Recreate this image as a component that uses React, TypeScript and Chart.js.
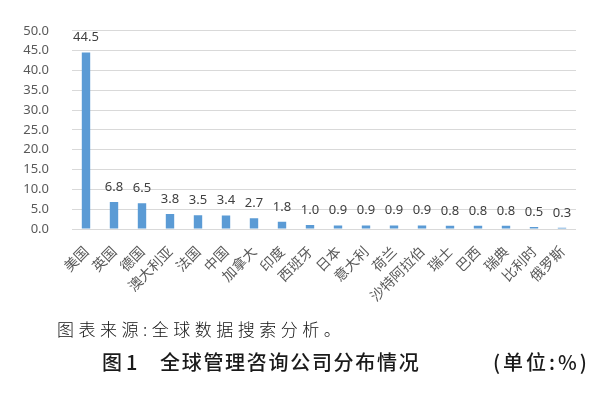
import React, { useEffect, useRef } from "react";
import { Chart, registerables } from "chart.js";

Chart.register(...registerables);

const categories = [
  "美国", "英国", "德国", "澳大利亚", "法国", "中国", "加拿大", "印度", "西班牙",
  "日本", "意大利", "荷兰", "沙特阿拉伯", "瑞士", "巴西", "瑞典", "比利时", "俄罗斯",
];
const shares = [44.5, 6.8, 6.5, 3.8, 3.5, 3.4, 2.7, 1.8, 1.0, 0.9, 0.9, 0.9, 0.9, 0.8, 0.8, 0.8, 0.5, 0.3];
const yMin = 0;
const yMax = 50;
const yStep = 5;

const captionSource = "图表来源:全球数据搜索分析。";
const figureNo = "图1";
const figureTitle = "全球管理咨询公司分布情况";
const unitText = "(单位:%)";

const NUM_FONT = '"Noto Sans", "Liberation Sans", sans-serif';
const CJK_FONT = '"Noto Sans CJK SC", "Noto Sans", sans-serif';

const valueLabels = {
  id: "valueLabels",
  afterDatasetsDraw(chart: any) {
    const ctx = chart.ctx;
    const meta = chart.getDatasetMeta(0);
    ctx.save();
    ctx.font = `13px ${NUM_FONT}`;
    ctx.fillStyle = "#404040";
    ctx.textAlign = "center";
    ctx.textBaseline = "middle";
    meta.data.forEach((bar: any, i: number) => {
      ctx.fillText(shares[i].toFixed(1), bar.x, bar.y - 15);
    });
    ctx.restore();
  },
};

export default function App() {
  const ref = useRef<HTMLCanvasElement | null>(null);

  useEffect(() => {
    if (!ref.current) return;
    const chart = new Chart(ref.current, {
      type: "bar",
      data: {
        labels: categories,
        datasets: [
          {
            data: shares,
            backgroundColor: "#5B9BD5",
            borderWidth: 0,
            barPercentage: 0.3,
            categoryPercentage: 1,
          },
        ],
      },
      options: {
        animation: false,
        responsive: false,
        devicePixelRatio: 1,
        layout: { padding: { left: 0, top: 30, right: 24, bottom: 0 } },
        plugins: {
          legend: { display: false },
          tooltip: { enabled: false },
        },
        scales: {
          x: {
            grid: { display: false, drawTicks: false },
            border: { display: false },
            ticks: {
              autoSkip: false,
              minRotation: 45,
              maxRotation: 45,
              padding: 14,
              color: "#595959",
              font: { size: 14, family: CJK_FONT },
            },
            afterFit: (s: any) => {
              s.height = 165;
            },
          },
          y: {
            min: yMin,
            max: yMax,
            grid: { color: "#D9D9D9", lineWidth: 1, drawTicks: false },
            border: { display: false },
            ticks: {
              stepSize: yStep,
              padding: 23,
              color: "#595959",
              font: { size: 13, family: NUM_FONT },
              callback: (v: any) => Number(v).toFixed(1),
            },
            afterFit: (s: any) => {
              s.width = 72;
            },
          },
        },
      },
      plugins: [valueLabels],
    });
    return () => chart.destroy();
  }, []);

  return (
    <div style={{ position: "relative", width: 600, height: 394, background: "#fff" }}>
      <style>{`body{margin:0;background:#fff}`}</style>
      <canvas ref={ref} width={600} height={394} style={{ position: "absolute", left: 0, top: 0 }} />
      <div
        style={{
          position: "absolute",
          left: 57,
          top: 320,
          fontFamily: CJK_FONT,
          fontSize: 17,
          lineHeight: "17px",
          fontWeight: 300,
          letterSpacing: "4.5px",
          color: "#111",
          whiteSpace: "nowrap",
        }}
      >
        {captionSource}
      </div>
      <div
        style={{
          position: "absolute",
          left: 102,
          top: 352,
          fontFamily: CJK_FONT,
          fontSize: 20,
          lineHeight: "20px",
          fontWeight: 500,
          letterSpacing: "4px",
          color: "#1a1a1a",
          whiteSpace: "nowrap",
        }}
      >
        {figureNo}
      </div>
      <div
        style={{
          position: "absolute",
          left: 160,
          top: 352,
          fontFamily: CJK_FONT,
          fontSize: 20,
          lineHeight: "20px",
          fontWeight: 500,
          letterSpacing: "1.7px",
          color: "#1a1a1a",
          whiteSpace: "nowrap",
        }}
      >
        {figureTitle}
      </div>
      <div
        style={{
          position: "absolute",
          left: 493,
          top: 352,
          fontFamily: CJK_FONT,
          fontSize: 20,
          lineHeight: "20px",
          fontWeight: 500,
          letterSpacing: "3px",
          color: "#1a1a1a",
          whiteSpace: "nowrap",
        }}
      >
        {unitText}
      </div>
    </div>
  );
}
